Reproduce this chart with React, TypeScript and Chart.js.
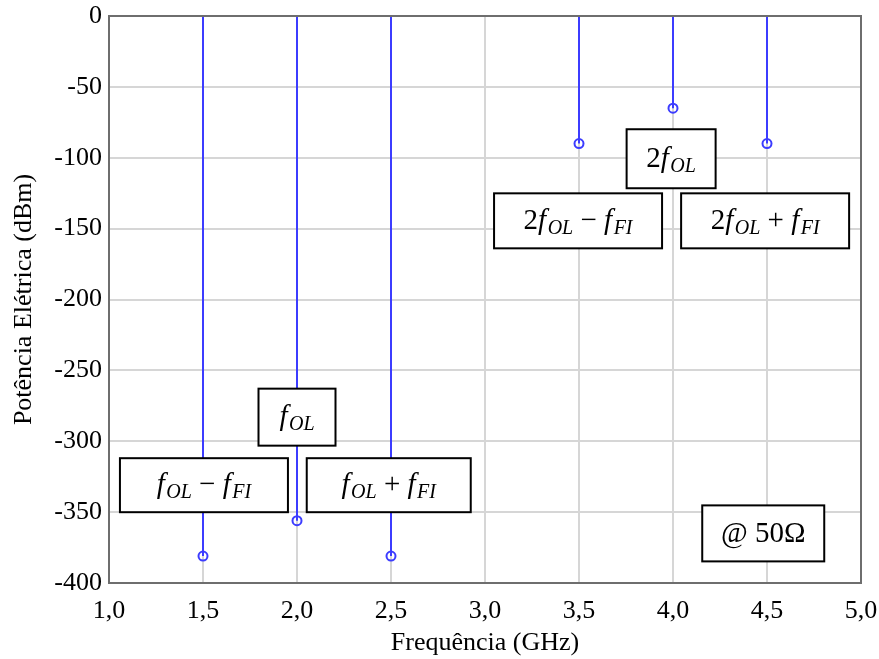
import { useEffect, useRef } from "react";
import { Chart, registerables } from "chart.js";

Chart.register(...registerables);

// Spectral components at the mixer output (GHz / dBm)
const frequencies = [1.5, 2.0, 2.5, 3.5, 4.0, 4.5];
const powers = [-381, -356, -381, -90, -65, -90];

const xTickValues = [1.0, 1.5, 2.0, 2.5, 3.0, 3.5, 4.0, 4.5, 5.0];
const xTickLabels = ["1,0", "1,5", "2,0", "2,5", "3,0", "3,5", "4,0", "4,5", "5,0"];
const yTickValues = [0, -50, -100, -150, -200, -250, -300, -350, -400];
const yTickLabels = ["0", "-50", "-100", "-150", "-200", "-250", "-300", "-350", "-400"];

const xTitle = "Frequência (GHz)";
const yTitle = "Potência Elétrica (dBm)";

// Label boxes: text made of segments (i = italic, s = italic subscript, n = upright)
type Seg = { t: string; k: "i" | "s" | "n" };
const boxTexts: Seg[][] = [
  [{ t: "f", k: "i" }, { t: "OL", k: "s" }, { t: " − ", k: "n" }, { t: "f", k: "i" }, { t: "FI", k: "s" }],
  [{ t: "f", k: "i" }, { t: "OL", k: "s" }],
  [{ t: "f", k: "i" }, { t: "OL", k: "s" }, { t: " + ", k: "n" }, { t: "f", k: "i" }, { t: "FI", k: "s" }],
  [{ t: "2", k: "n" }, { t: "f", k: "i" }, { t: "OL", k: "s" }, { t: " − ", k: "n" }, { t: "f", k: "i" }, { t: "FI", k: "s" }],
  [{ t: "2", k: "n" }, { t: "f", k: "i" }, { t: "OL", k: "s" }],
  [{ t: "2", k: "n" }, { t: "f", k: "i" }, { t: "OL", k: "s" }, { t: " + ", k: "n" }, { t: "f", k: "i" }, { t: "FI", k: "s" }],
  [{ t: "@ 50Ω", k: "n" }],
];
// Box centres in axis units, sizes in pixels
const boxX = [1.505, 2.0, 2.488, 3.495, 3.99, 4.49, 4.48];
const boxY = [-331, -283, -331, -144.5, -100.7, -144.5, -365];
const boxW = [168, 77, 164, 168, 89, 168, 122];
const boxH = [54, 57, 54, 55, 59, 55, 56];

const SERIF = '"Liberation Serif", "Times New Roman", serif';
const STEM = "#3c3cff";
const FRAME = "#6e6e6e";
const GRID = "#d6d6d6";
const MAIN_PX = 29;
const SUB_PX = 20;
const TICK_PX = 26;

function drawRich(ctx: CanvasRenderingContext2D, segs: Seg[], cx: number, cy: number) {
  const fontFor = (s: Seg) =>
    s.k === "s" ? `italic ${SUB_PX}px ${SERIF}` : s.k === "i" ? `italic ${MAIN_PX}px ${SERIF}` : `${MAIN_PX}px ${SERIF}`;
  const widths = segs.map((s) => {
    ctx.font = fontFor(s);
    return ctx.measureText(s.t).width + (s.k === "i" ? 1.5 : 0);
  });
  const total = widths.reduce((a, b) => a + b, 0);
  let x = cx - total / 2;
  const base = cy + MAIN_PX * 0.28;
  ctx.textBaseline = "alphabetic";
  ctx.textAlign = "left";
  ctx.fillStyle = "#000";
  segs.forEach((s, i) => {
    ctx.font = fontFor(s);
    ctx.fillText(s.t, x, s.k === "s" ? base + 5 : base);
    x += widths[i];
  });
}

const overlayPlugin = {
  id: "overlay",
  afterDatasetsDraw(chart: any) {
    const { ctx, chartArea: a, scales } = chart;
    ctx.save();
    ctx.strokeStyle = FRAME;
    ctx.lineWidth = 2;
    ctx.strokeRect(a.left, a.top, a.right - a.left, a.bottom - a.top);
    boxTexts.forEach((segs, i) => {
      const cx = scales.x.getPixelForValue(boxX[i]);
      const cy = scales.y.getPixelForValue(boxY[i]);
      const w = boxW[i];
      const h = boxH[i];
      ctx.fillStyle = "#fff";
      ctx.fillRect(cx - w / 2, cy - h / 2, w, h);
      ctx.strokeStyle = "#000";
      ctx.lineWidth = 2;
      ctx.strokeRect(cx - w / 2, cy - h / 2, w, h);
      drawRich(ctx, segs, cx, cy);
    });
    ctx.restore();
  },
};

export default function App() {
  const ref = useRef<HTMLCanvasElement | null>(null);

  useEffect(() => {
    if (!ref.current) return;
    const stemData: { x: number; y: number | null }[] = [];
    frequencies.forEach((f, i) => {
      stemData.push({ x: f, y: 0 }, { x: f, y: powers[i] }, { x: f, y: null });
    });
    const markerData = frequencies.map((f, i) => ({ x: f, y: powers[i] }));

    const chart = new Chart(ref.current, {
      type: "scatter",
      data: {
        datasets: [
          {
            data: stemData as any,
            showLine: true,
            spanGaps: false,
            borderColor: STEM,
            borderWidth: 2,
            pointRadius: 0,
          },
          {
            data: markerData,
            pointStyle: "circle",
            pointRadius: 4.5,
            borderColor: STEM,
            borderWidth: 2,
            backgroundColor: "rgba(0,0,0,0)",
          },
        ],
      },
      options: {
        responsive: false,
        animation: false,
        events: [],
        layout: { padding: { left: 0, right: 18, top: 16, bottom: 0 } },
        plugins: { legend: { display: false }, tooltip: { enabled: false } },
        scales: {
          x: {
            type: "linear",
            min: 1,
            max: 5,
            afterBuildTicks: (s: any) => {
              s.ticks = xTickValues.map((v) => ({ value: v }));
            },
            afterFit: (s: any) => {
              s.height = 76;
              s.paddingLeft = 0;
              s.paddingRight = 0;
            },
            ticks: {
              color: "#000",
              font: { family: SERIF, size: TICK_PX },
              padding: 13,
              maxRotation: 0,
              callback: (v: any) => xTickLabels[xTickValues.indexOf(Number(v))] ?? "",
            },
            grid: { color: GRID, lineWidth: 2, drawTicks: false },
            border: { color: FRAME, width: 2 },
            title: {
              display: true,
              text: xTitle,
              color: "#000",
              font: { family: SERIF, size: TICK_PX },
              padding: { top: 0, bottom: 0 },
            },
          },
          y: {
            type: "linear",
            min: -400,
            max: 0,
            afterBuildTicks: (s: any) => {
              s.ticks = yTickValues.map((v) => ({ value: v }));
            },
            afterFit: (s: any) => {
              s.width = 109;
              s.paddingTop = 0;
              s.paddingBottom = 0;
            },
            ticks: {
              color: "#000",
              font: { family: SERIF, size: TICK_PX },
              padding: 7,
              callback: (v: any) => yTickLabels[yTickValues.indexOf(Number(v))] ?? "",
            },
            grid: { color: GRID, lineWidth: 2, drawTicks: false },
            border: { color: FRAME, width: 2 },
            title: {
              display: true,
              text: yTitle,
              color: "#000",
              font: { family: SERIF, size: TICK_PX },
              padding: { top: 9, bottom: 0 },
            },
          },
        },
      },
      plugins: [overlayPlugin],
    });
    return () => chart.destroy();
  }, []);

  return (
    <div style={{ position: "fixed", left: 0, top: 0, width: 879, height: 659, background: "#fff" }}>
      <canvas ref={ref} width={879} height={659} style={{ display: "block" }} />
    </div>
  );
}
